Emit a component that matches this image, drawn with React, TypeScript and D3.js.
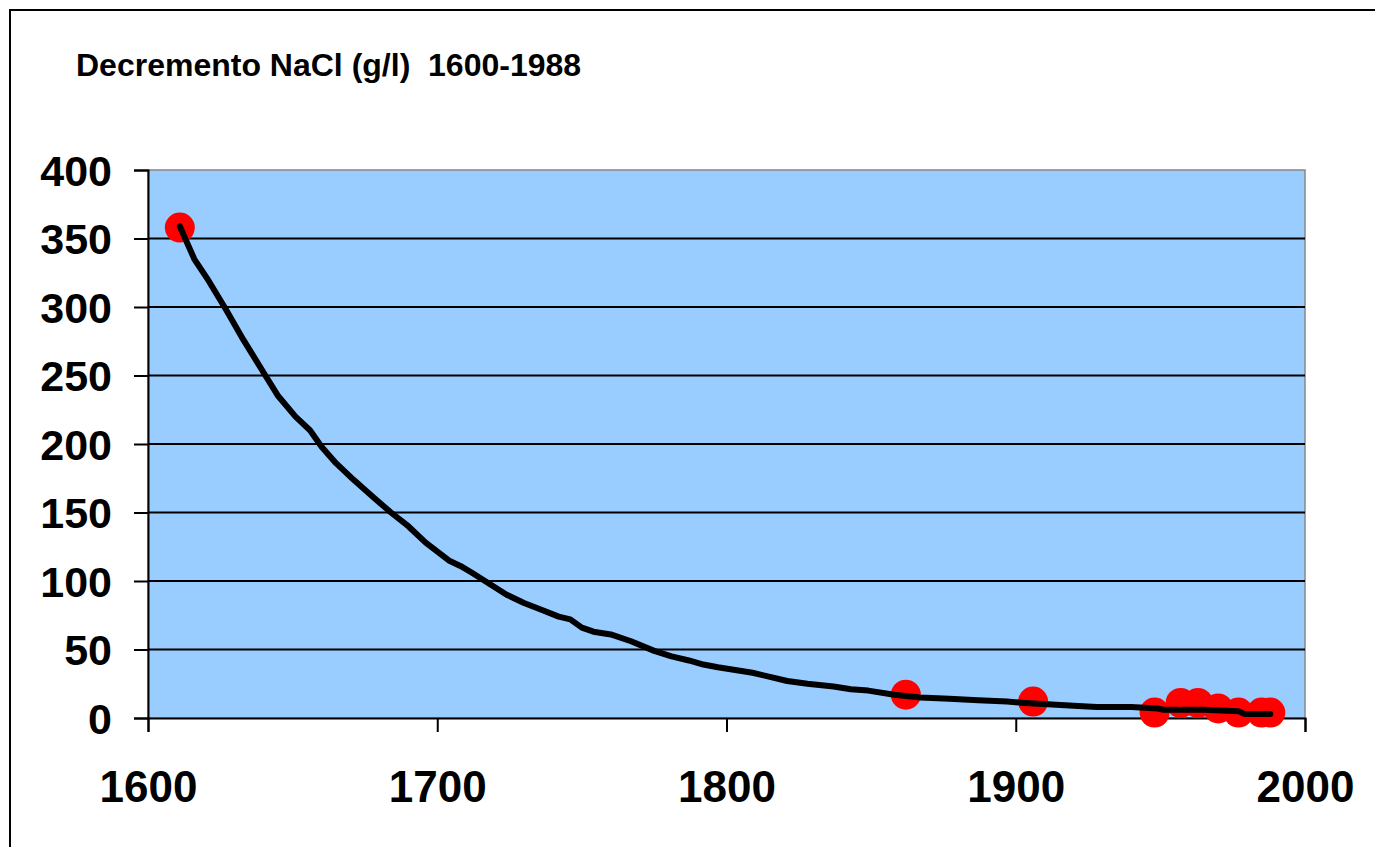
import React, { useEffect, useRef } from 'react';
import * as d3 from 'd3';

// red markers: measured points
const pointYears = [1611, 1862, 1906, 1948, 1957, 1963, 1970, 1977, 1985, 1988];
const pointValues = [358, 17, 12, 4, 11, 11, 7, 4, 4, 4];

// black curve
const lineYears = [
  1611, 1616, 1621, 1627, 1633, 1640, 1645, 1651, 1656, 1660, 1665, 1671, 1678, 1684,
  1690, 1696, 1704, 1708, 1712, 1718, 1724, 1730, 1736, 1742, 1746, 1750, 1754, 1760,
  1767, 1775, 1781, 1787, 1792, 1797, 1803, 1809, 1815, 1821, 1828, 1837, 1843, 1849,
  1858, 1867, 1877, 1887, 1897, 1903, 1911, 1920, 1928, 1940, 1949, 1951, 1965, 1977,
  1979, 1988,
];
const lineValues = [
  359, 335, 319, 298, 276, 252, 235, 220, 210, 198, 186, 174, 161, 150,
  140, 128, 115, 111, 106, 98, 90, 84, 79, 74, 72, 66, 63, 61,
  56, 49, 45, 42, 39, 37, 35, 33, 30, 27, 25, 23, 21, 20,
  17, 15, 14, 13, 12, 11, 10, 9, 8, 8, 7, 6, 6, 5,
  3, 3,
];

const yTicks = [0, 50, 100, 150, 200, 250, 300, 350, 400];
const xTicks = [1600, 1700, 1800, 1900, 2000];
const title = 'Decremento NaCl (g/l)  1600-1988';

const W = 1375;
const H = 847;
const left = 148;
const right = 1305;
const top = 170;
const bottom = 718;

const App: React.FC = () => {
  const svgRef = useRef<SVGSVGElement>(null);

  useEffect(() => {
    if (!svgRef.current) return;
    const svg = d3.select(svgRef.current);
    svg.selectAll('*').remove();

    const x = d3.scaleLinear().domain([1600, 2000]).range([left, right]);
    const y = d3.scaleLinear().domain([0, 400]).range([bottom, top]);
    const font = '"Liberation Sans", Arial, sans-serif';

    // outer chart frame (runs off the right and bottom edges)
    svg.append('rect')
      .attr('x', 10).attr('y', 10)
      .attr('width', W + 20).attr('height', H + 20)
      .attr('fill', '#fff')
      .attr('stroke', '#000')
      .attr('stroke-width', 2);

    svg.append('text')
      .attr('x', 76).attr('y', 76)
      .text(title)
      .style('white-space', 'pre')
      .style('font-family', font)
      .style('font-weight', 'bold')
      .style('font-size', '32px')
      .attr('fill', '#000');

    // plot area
    svg.append('rect')
      .attr('x', left).attr('y', top)
      .attr('width', right - left).attr('height', bottom - top)
      .attr('fill', '#99CCFF')
      .attr('stroke', '#888')
      .attr('stroke-width', 1.5);

    // gridlines
    svg.append('g')
      .selectAll('line')
      .data(yTicks.filter(t => t > 0 && t < 400))
      .enter()
      .append('line')
      .attr('x1', left).attr('x2', right)
      .attr('y1', d => y(d)).attr('y2', d => y(d))
      .attr('stroke', '#000')
      .attr('stroke-width', 2);

    // y axis
    const yAxis = svg.append('g').attr('transform', `translate(${left},0)`)
      .call(d3.axisLeft(y).tickValues(yTicks).tickSize(14).tickPadding(22).tickFormat(d3.format('d')));
    yAxis.select('.domain').attr('stroke', '#000').attr('stroke-width', 2);
    yAxis.selectAll('.tick line').attr('stroke', '#000').attr('stroke-width', 2);
    yAxis.selectAll('.tick text')
      .attr('fill', '#000')
      .attr('dy', '0.36em')
      .style('font-family', font)
      .style('font-weight', 'bold')
      .style('font-size', '43px');

    // x axis
    const xAxis = svg.append('g').attr('transform', `translate(0,${bottom})`)
      .call(d3.axisBottom(x).tickValues(xTicks).tickSize(14).tickPadding(0).tickFormat(d3.format('d')));
    xAxis.select('.domain').attr('stroke', '#000').attr('stroke-width', 2);
    xAxis.selectAll('.tick line').attr('stroke', '#000').attr('stroke-width', 2);
    xAxis.selectAll('.tick text')
      .attr('fill', '#000')
      .attr('y', 84)
      .attr('dy', 0)
      .style('font-family', font)
      .style('font-weight', 'bold')
      .style('font-size', '44px');

    const pts = pointYears.map((yr, i) => [yr, pointValues[i]] as [number, number]);
    svg.append('g')
      .selectAll('circle')
      .data(pts)
      .enter()
      .append('circle')
      .attr('cx', d => x(d[0]))
      .attr('cy', d => y(d[1]))
      .attr('r', 15)
      .attr('fill', '#FF0000');

    const linePts = lineYears.map((yr, i) => [yr, lineValues[i]] as [number, number]);
    const line = d3.line<[number, number]>()
      .x(d => x(d[0]))
      .y(d => y(d[1]));

    svg.append('path')
      .datum(linePts)
      .attr('d', line)
      .attr('fill', 'none')
      .attr('stroke', '#000')
      .attr('stroke-width', 6)
      .attr('stroke-linejoin', 'round')
      .attr('stroke-linecap', 'round');
  }, []);

  return (
    <svg
      ref={svgRef}
      width={W}
      height={H}
      style={{ position: 'absolute', left: 0, top: 0, display: 'block' }}
    />
  );
};

export default App;
